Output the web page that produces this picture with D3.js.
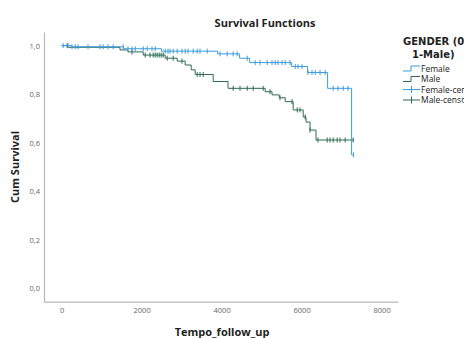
<!DOCTYPE html>
<html>
<head>
<meta charset="utf-8">
<script src="https://cdn.jsdelivr.net/npm/d3@7"></script>
<style>
  body { margin: 0; background: #fff; }
  svg { display: block; font-family: "Open Sans", "DejaVu Sans", sans-serif; }
</style>
</head>
<body>
<script>
// survival steps (time, cumulative survival)
var femaleTimes = [0, 250, 1550, 2500, 3900, 4450, 4700, 5750, 6150, 6650, 7250];
var femaleSurv = [1.0, 0.995, 0.987, 0.977, 0.966, 0.948, 0.930, 0.914, 0.889, 0.824, 0.55];
var femaleEnd = 7300;

var maleTimes = [0, 150, 1460, 1660, 2040, 2590, 2890, 3090, 3240, 3340, 3790, 4160, 5090, 5260, 5440, 5590, 5790, 6040, 6110, 6210, 6360];
var maleSurv = [1.0, 0.993, 0.982, 0.974, 0.961, 0.948, 0.936, 0.920, 0.900, 0.881, 0.852, 0.824, 0.810, 0.797, 0.785, 0.769, 0.735, 0.706, 0.685, 0.652, 0.611];
var maleEnd = 7300;

// censored cases
var femaleCensor = [40, 160, 260, 340, 410, 660, 960, 1040, 1160, 1290, 1540, 1660, 1760, 1840, 2040, 2140, 2260, 2340,
  2590, 2660, 2710, 2790, 2890, 3010, 3090, 3160, 3290, 3390, 3460, 3640, 3960, 4140, 4290, 4390, 4640, 4840, 4960,
  5140, 5260, 5340, 5410, 5510, 5590, 5710, 5840, 5910, 6010, 6160, 6260, 6340, 6460, 6590, 6790, 6910, 7040, 7160, 7300];
var maleCensor = [140, 1760, 2090, 2210, 2290, 2340, 2390, 2440, 2490, 2540, 2640, 2790, 3010, 3390, 3460, 3540, 4290,
  4460, 4640, 4790, 5040, 5210, 5460, 5760, 5890, 5960, 6090, 6210, 6410, 6640, 6710, 6790, 6890, 6960, 7090, 7290];

var yTicks = [0, 0.2, 0.4, 0.6, 0.8, 1.0];
var xTicks = [0, 2000, 4000, 6000, 8000];
var legendLabels = ["Female", "Male", "Female-censored", "Male-censored"];

var femaleColor = "#3d9be0";
var maleColor = "#2f6a52";

var svg = d3.select("body").append("svg")
  .attr("width", 464)
  .attr("height", 338);

var x = d3.scaleLinear().domain([-440, 8410]).range([44, 398]);
var y = d3.scaleLinear().domain([-0.055, 1.056]).range([301.7, 32]);

// axis lines, no ticks
var xAxis = d3.axisBottom(x).tickValues(xTicks).tickSize(0).tickPadding(6).tickFormat(d3.format("d"));
var yAxis = d3.axisLeft(y).tickValues(yTicks).tickSize(0).tickPadding(4)
  .tickFormat(function (d) { return d3.format(".1f")(d).replace(".", ","); });

var gx = svg.append("g").attr("transform", "translate(0,301.7)").call(xAxis);
var gy = svg.append("g").attr("transform", "translate(44,0)").call(yAxis);
[gx, gy].forEach(function (g) {
  g.select(".domain").attr("stroke", "#b8b8b8").attr("stroke-width", 1.2);
  g.selectAll("text").style("fill", "#666").style("font-size", "7.5px").style("font-family", "Open Sans, sans-serif");
});

function stepAt(times, surv, t) {
  var i = d3.bisectRight(times, t) - 1;
  return surv[Math.max(0, i)];
}

function stepPath(times, surv, end) {
  var pts = [];
  times.forEach(function (t, i) {
    if (i > 0) pts.push([t, surv[i - 1]]);
    pts.push([t, surv[i]]);
  });
  pts.push([end, surv[surv.length - 1]]);
  return d3.line().x(function (d) { return x(d[0]); }).y(function (d) { return y(d[1]); })(pts);
}

function drawGroup(times, surv, end, censor, color) {
  svg.append("path")
    .attr("d", stepPath(times, surv, end))
    .attr("fill", "none")
    .attr("stroke", color)
    .attr("stroke-width", 1);
  svg.append("g").selectAll("line")
    .data(censor)
    .enter()
    .append("line")
    .attr("x1", function (d) { return x(d); })
    .attr("x2", function (d) { return x(d); })
    .attr("y1", function (d) { return y(stepAt(times, surv, d)) - 2.5; })
    .attr("y2", function (d) { return y(stepAt(times, surv, d)) + 2.5; })
    .attr("stroke", color)
    .attr("stroke-width", 1);
}

drawGroup(maleTimes, maleSurv, maleEnd, maleCensor, maleColor);
drawGroup(femaleTimes, femaleSurv, femaleEnd, femaleCensor, femaleColor);

// titles
svg.append("text").attr("x", 265).attr("y", 27).attr("text-anchor", "middle")
  .style("font-size", "11px").style("font-weight", "bold").style("fill", "#222")
  .text("Survival Functions");
svg.append("text").attr("x", 222).attr("y", 336).attr("text-anchor", "middle")
  .style("font-size", "11px").style("font-weight", "bold").style("fill", "#222")
  .text("Tempo_follow_up");
svg.append("text").attr("transform", "translate(19,167) rotate(-90)").attr("text-anchor", "middle")
  .style("font-size", "11px").style("font-weight", "bold").style("fill", "#222")
  .text("Cum Survival");

// legend (title runs past the right edge, as in the original)
svg.append("text").attr("x", 403).attr("y", 45)
  .style("font-size", "10px").style("font-weight", "bold").style("fill", "#222")
  .style("font-family", "DejaVu Sans, sans-serif")
  .text("GENDER (0-Female;");
svg.append("text").attr("x", 412).attr("y", 57.5)
  .style("font-size", "10px").style("font-weight", "bold").style("fill", "#222")
  .style("font-family", "DejaVu Sans, sans-serif")
  .text("1-Male)");

var legendColors = [femaleColor, maleColor, femaleColor, maleColor];
var legendY = d3.scalePoint().domain(legendLabels).range([68.5, 100]);

var lg = svg.append("g").selectAll("g")
  .data(legendLabels)
  .enter()
  .append("g")
  .attr("transform", function (d) { return "translate(0," + legendY(d) + ")"; });

lg.append("path")
  .attr("d", function (d, i) {
    return i < 2 ? "M403,2.5H411V-2.5H420" : "M403,0H420M411.5,-3.5V3.5";
  })
  .attr("fill", "none")
  .attr("stroke", function (d, i) { return legendColors[i]; })
  .attr("stroke-width", 1);

lg.append("text")
  .attr("x", 421)
  .attr("y", 3)
  .style("font-size", "8.5px")
  .style("fill", "#222")
  .text(function (d) { return d; });
</script>
</body>
</html>
